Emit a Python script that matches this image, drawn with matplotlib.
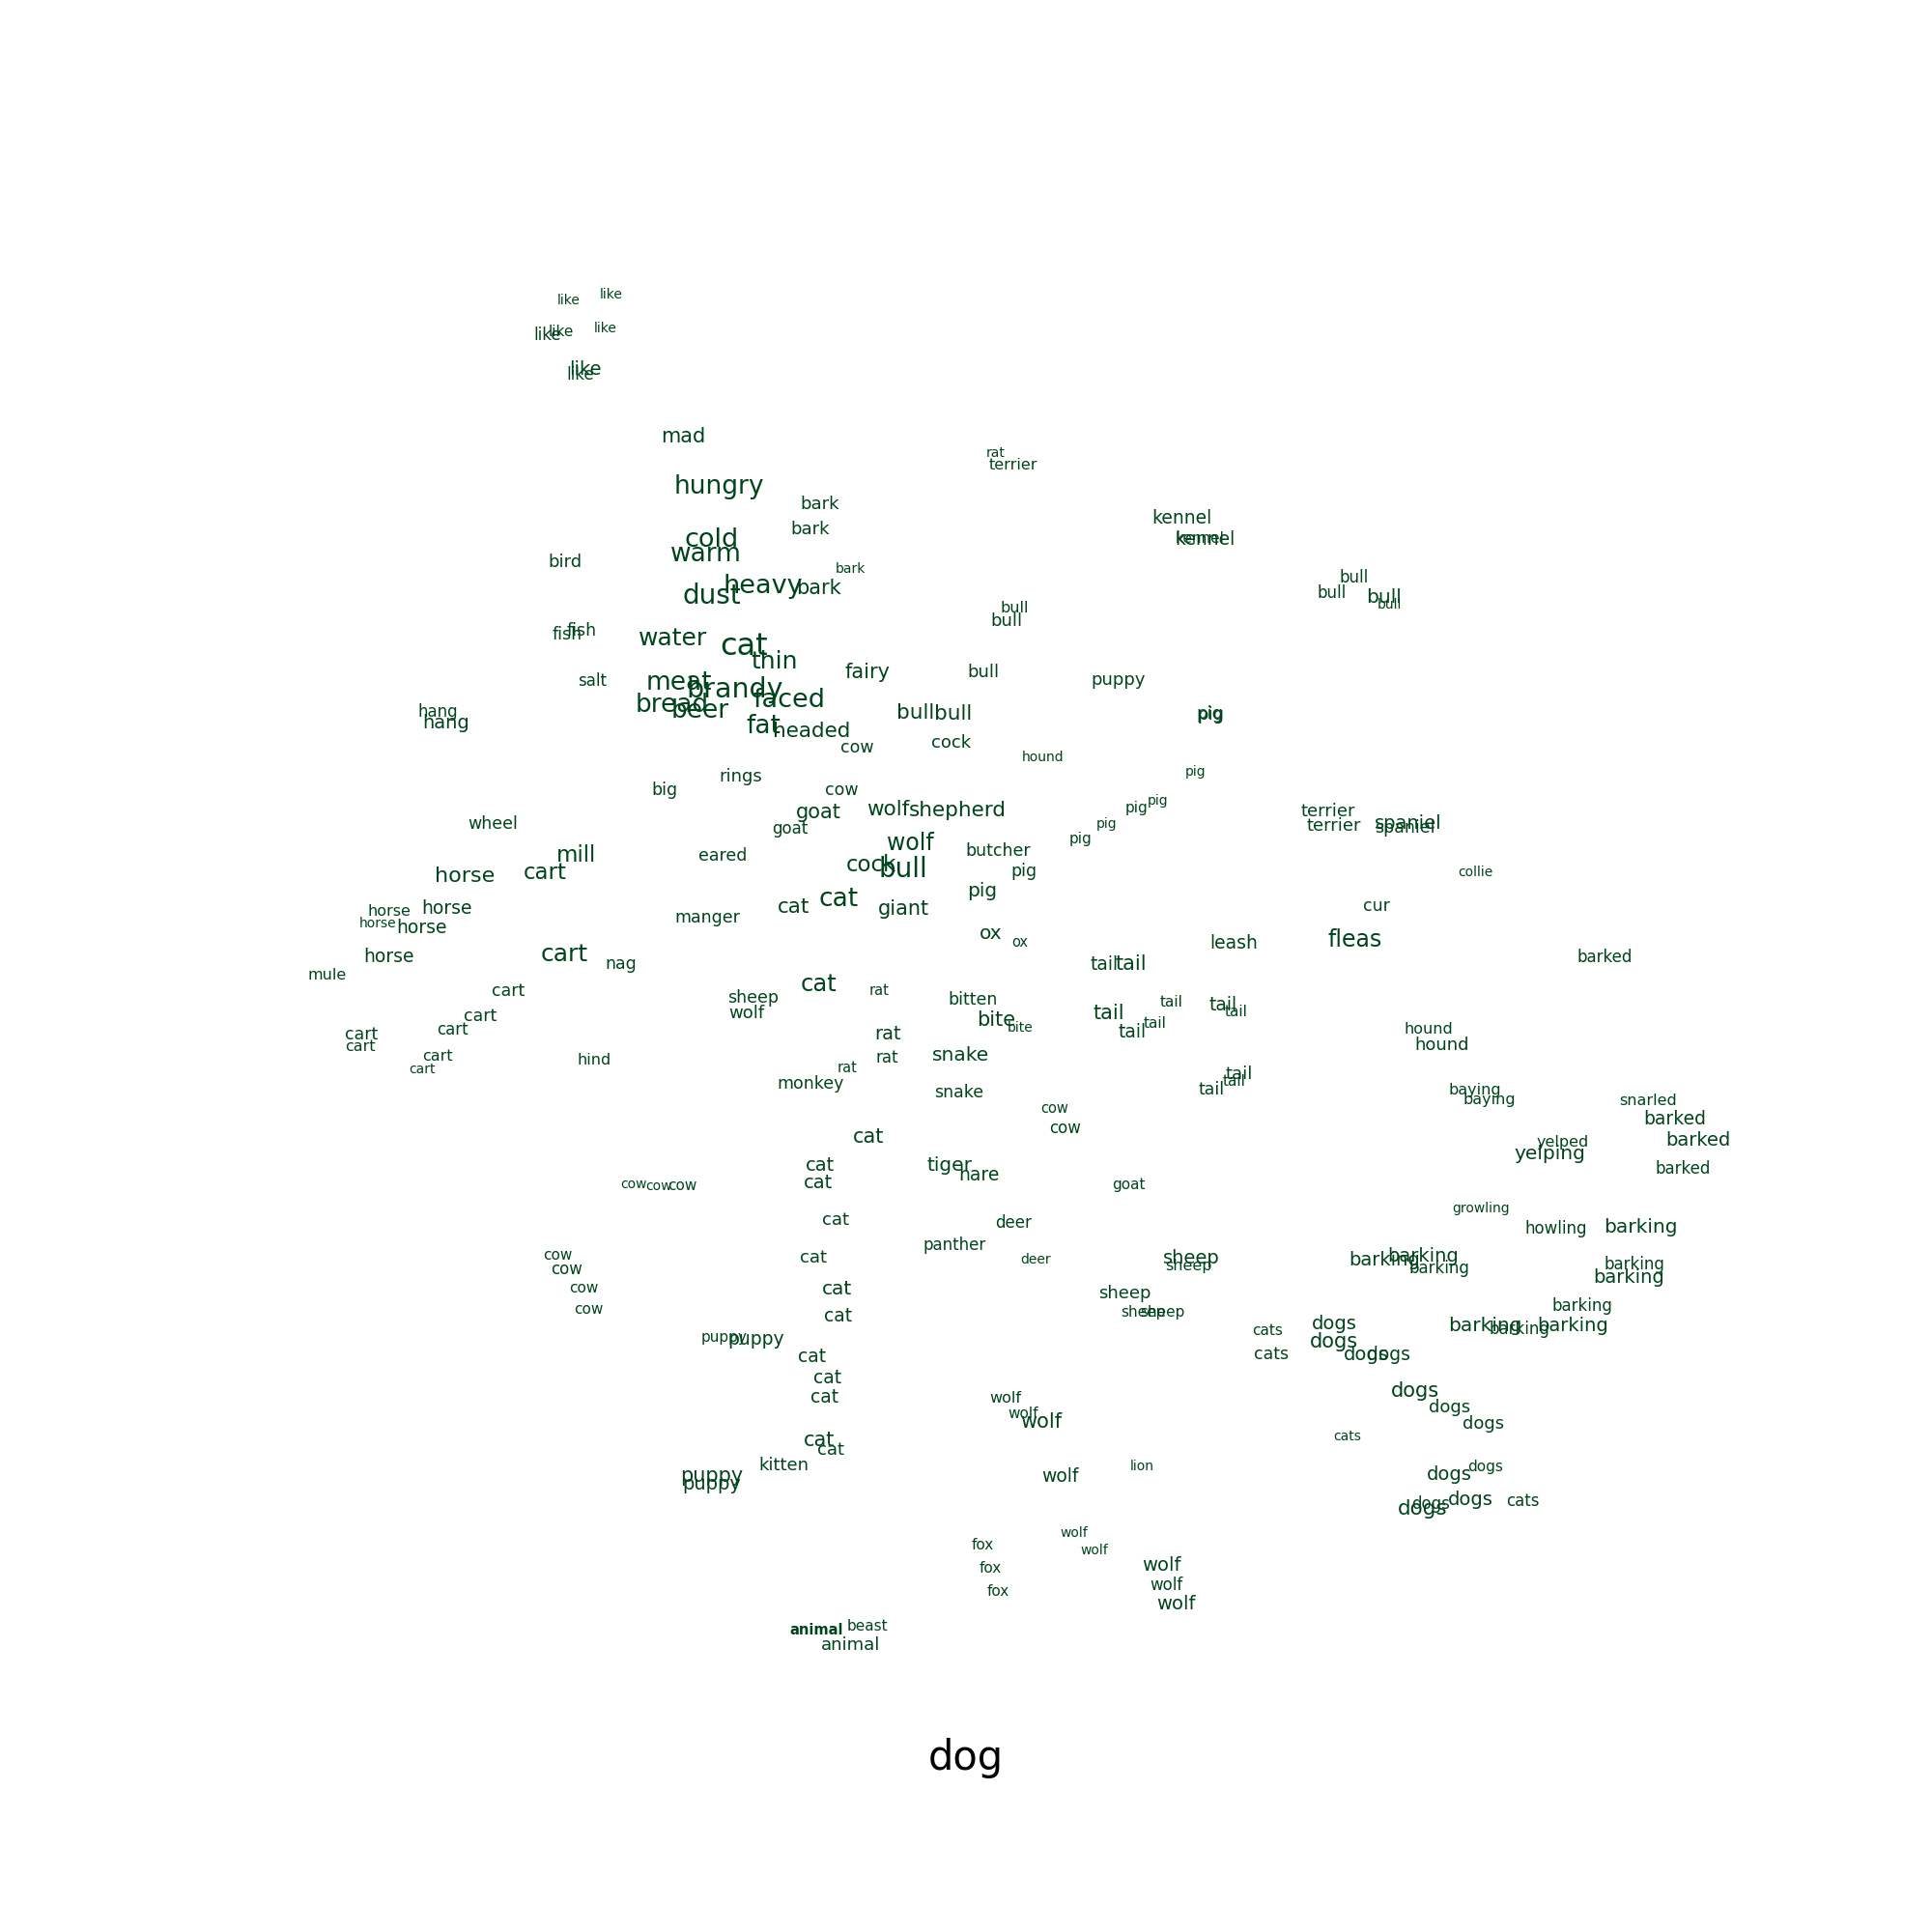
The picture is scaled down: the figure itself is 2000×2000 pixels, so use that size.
import matplotlib
matplotlib.use("Agg")
import matplotlib.pyplot as plt

# word map around "dog": each neighbour word at its 2-d position,
# font size reflects the weight of the word
words = [
    "like", "like", "like", "like", "like", "like", "like", "mad", "hungry", "cold",
    "warm", "bird", "dust", "fish", "fish", "water", "salt", "meat", "hang", "hang",
    "bread", "beer", "brandy", "cat", "rat", "terrier", "bark", "bark", "bark", "heavy",
    "bark", "bull", "bull", "thin", "fairy", "bull", "puppy", "faced", "bull", "bull",
    "fat", "headed", "cow", "cock", "kennel", "kennel", "kennel", "bull", "bull", "bull",
    "bull", "pig", "pig", "hound", "rings", "cow", "goat", "wolf", "shepherd", "goat",
    "pig", "pig", "pig", "pig", "pig", "wolf", "butcher", "eared", "cock", "bull",
    "pig", "pig", "cat", "cat", "giant", "manger", "ox", "ox", "cat", "rat",
    "sheep", "bitten", "wolf", "bite", "bite", "rat", "snake", "rat", "rat", "monkey",
    "snake", "cow", "cow", "cat", "cat", "tiger", "hare", "cat", "terrier", "terrier",
    "spaniel", "spaniel", "collie", "cur", "leash", "fleas", "tail", "tail", "tail", "tail",
    "tail", "tail", "tail", "tail", "hound", "hound", "tail", "tail", "tail", "baying",
    "baying", "goat", "growling", "barked", "snarled", "barked", "yelped", "barked", "yelping", "barked",
    "big", "wheel", "mill", "horse", "cart", "horse", "horse", "horse", "horse", "horse",
    "cart", "nag", "mule", "cart", "cart", "cart", "cart", "cart", "cart", "cart",
    "hind", "cow", "cow", "cow", "cow", "cow", "cow", "cow", "puppy", "puppy",
    "puppy", "puppy", "cat", "deer", "panther", "cat", "deer", "cat", "cat", "cat",
    "cat", "cat", "wolf", "wolf", "wolf", "cat", "cat", "kitten", "wolf", "lion",
    "wolf", "fox", "wolf", "fox", "fox", "animal", "beast", "animal", "sheep", "sheep",
    "barking", "barking", "barking", "sheep", "sheep", "sheep", "cats", "dogs", "dogs", "cats",
    "dogs", "dogs", "dogs", "dogs", "dogs", "cats", "dogs", "dogs", "dogs", "dogs",
    "dogs", "cats", "wolf", "wolf", "wolf", "howling", "barking", "barking", "barking", "barking",
    "barking", "barking", "barking",
]

x = [
    589, 633, 567, 581, 627, 606, 601, 707, 744, 737,
    731, 585, 737, 587, 602, 697, 613, 703, 453, 462,
    696, 725, 761, 770, 1031, 1049, 849, 839, 880, 790,
    847, 1050, 1042, 802, 898, 1018, 1158, 817, 948, 987,
    790, 840, 887, 985, 1223, 1242, 1247, 1402, 1379, 1433,
    1438, 1252, 1253, 1080, 767, 871, 847, 919, 991, 818,
    1238, 1199, 1176, 1146, 1119, 942, 1033, 748, 902, 935,
    1060, 1017, 822, 868, 935, 732, 1026, 1056, 847, 910,
    780, 1007, 773, 1031, 1056, 919, 995, 918, 877, 839,
    993, 1092, 1103, 899, 849, 983, 1013, 847, 1375, 1381,
    1458, 1454, 1527, 1425, 1277, 1403, 1143, 1171, 1213, 1266,
    1280, 1148, 1196, 1172, 1479, 1493, 1283, 1278, 1254, 1527,
    1542, 1168, 1533, 1661, 1706, 1734, 1618, 1758, 1604, 1742,
    688, 510, 597, 481, 564, 403, 462, 391, 437, 402,
    584, 643, 339, 526, 497, 468, 374, 373, 453, 437,
    615, 656, 682, 706, 577, 587, 604, 609, 750, 783,
    737, 737, 865, 1049, 988, 842, 1072, 866, 868, 841,
    857, 854, 1041, 1059, 1078, 848, 860, 811, 1097, 1182,
    1112, 1017, 1133, 1025, 1033, 845, 898, 881, 1233, 1230,
    1433, 1473, 1490, 1164, 1183, 1203, 1312, 1381, 1381, 1316,
    1414, 1437, 1465, 1501, 1536, 1395, 1500, 1538, 1522, 1481,
    1473, 1576, 1202, 1207, 1217, 1611, 1698, 1692, 1686, 1638,
    1537, 1573, 1628,
]

y = [
    311, 305, 347, 344, 340, 383, 388, 452, 504, 559,
    574, 582, 617, 657, 653, 661, 705, 707, 737, 748,
    730, 736, 714, 670, 469, 481, 522, 548, 589, 607,
    609, 629, 643, 685, 696, 696, 704, 725, 738, 739,
    752, 757, 774, 769, 536, 557, 558, 598, 614, 618,
    626, 739, 740, 784, 804, 818, 841, 838, 839, 858,
    799, 829, 836, 853, 868, 873, 881, 886, 896, 900,
    902, 923, 939, 931, 941, 950, 966, 975, 1019, 1026,
    1033, 1035, 1049, 1056, 1064, 1071, 1092, 1095, 1105, 1122,
    1131, 1147, 1168, 1177, 1207, 1207, 1217, 1224, 840, 855,
    852, 857, 903, 938, 976, 973, 998, 998, 1037, 1040,
    1047, 1049, 1059, 1069, 1066, 1082, 1112, 1119, 1128, 1128,
    1138, 1226, 1251, 991, 1140, 1159, 1182, 1181, 1194, 1210,
    818, 853, 886, 907, 904, 944, 941, 956, 960, 991,
    988, 998, 1009, 1026, 1052, 1066, 1071, 1083, 1094, 1107,
    1097, 1226, 1228, 1228, 1300, 1314, 1333, 1356, 1384, 1386,
    1528, 1537, 1263, 1266, 1289, 1302, 1304, 1335, 1363, 1404,
    1427, 1447, 1447, 1463, 1472, 1491, 1501, 1517, 1528, 1518,
    1587, 1599, 1605, 1623, 1647, 1688, 1684, 1703, 1303, 1311,
    1305, 1301, 1313, 1339, 1359, 1359, 1377, 1371, 1389, 1402,
    1403, 1402, 1440, 1457, 1474, 1487, 1527, 1519, 1552, 1557,
    1562, 1554, 1621, 1641, 1661, 1272, 1270, 1309, 1322, 1352,
    1373, 1376, 1372,
]

size = [
    10, 10, 12, 11, 10, 14, 12, 15, 19, 19.5,
    19, 13, 20, 12.5, 12.5, 18, 12, 19, 12, 14,
    19, 19, 20.5, 23, 10, 11.5, 13, 13, 10, 19.5,
    15, 11.5, 13, 18, 15, 13, 13, 19.5, 15.5, 15.5,
    19, 15.5, 12.5, 13, 13.5, 11, 13.5, 12, 12, 14.5,
    10, 13, 13, 10, 13, 12.5, 15, 15.5, 15.5, 12,
    10, 10, 11, 10, 11, 17, 12.5, 12.5, 16.5, 20,
    12.5, 14.5, 15.5, 19, 15, 12.5, 14.5, 10.5, 17.5, 10.5,
    12.5, 12.5, 13, 15, 10, 14, 14.5, 12, 10.5, 12.5,
    12.5, 10.5, 12, 15, 14, 14.5, 13.5, 14, 13, 13,
    14, 12.5, 10, 12.5, 13.5, 17, 13.5, 15, 11, 13.5,
    11, 15, 11, 13.5, 11.5, 13, 13, 11, 12.5, 11.5,
    11.5, 11, 10, 12, 11.5, 13.5, 11.5, 14, 14.5, 12,
    12.5, 12.5, 16.5, 16, 16.5, 11.5, 13.5, 10, 13.5, 13.5,
    18, 12.5, 11.5, 12.5, 12.5, 12, 12.5, 11.5, 11.5, 10,
    11.5, 10, 10, 11, 11, 12, 11, 11, 11, 13.5,
    15, 14, 13, 12, 12, 13, 10, 14.5, 13.5, 13.5,
    13.5, 13.5, 11.5, 11, 15, 15, 13, 13, 13.5, 10,
    10, 11, 10, 11, 11, 10.5, 11, 13, 14, 11.5,
    14, 14, 12, 13, 11, 11, 11, 14, 15, 12.5,
    14, 13.5, 15, 13, 13, 10, 14, 11, 14, 12,
    15.5, 12, 14, 12, 14, 12, 14.5, 12, 14, 12,
    14.5, 12, 14,
]

bold_points = [("animal", 845, 1688)]
query = "dog"

fig = plt.figure(figsize=(20, 20), dpi=100)
ax = fig.add_axes([0, 0, 1, 1])
ax.set_xlim(0, 2000)
ax.set_ylim(2000, 0)
ax.axis('off')

for w, xx, yy, s in zip(words, x, y, size):
    weight = 'bold' if (w, xx, yy) in bold_points else 'normal'
    ax.text(xx, yy, w, fontsize=s, color='#00441b', ha='center', va='center',
            fontweight=weight)

ax.text(1000, 1820, query, fontsize=30, color='black', ha='center', va='center')

fig.savefig('out.png', dpi=100, facecolor='white')
